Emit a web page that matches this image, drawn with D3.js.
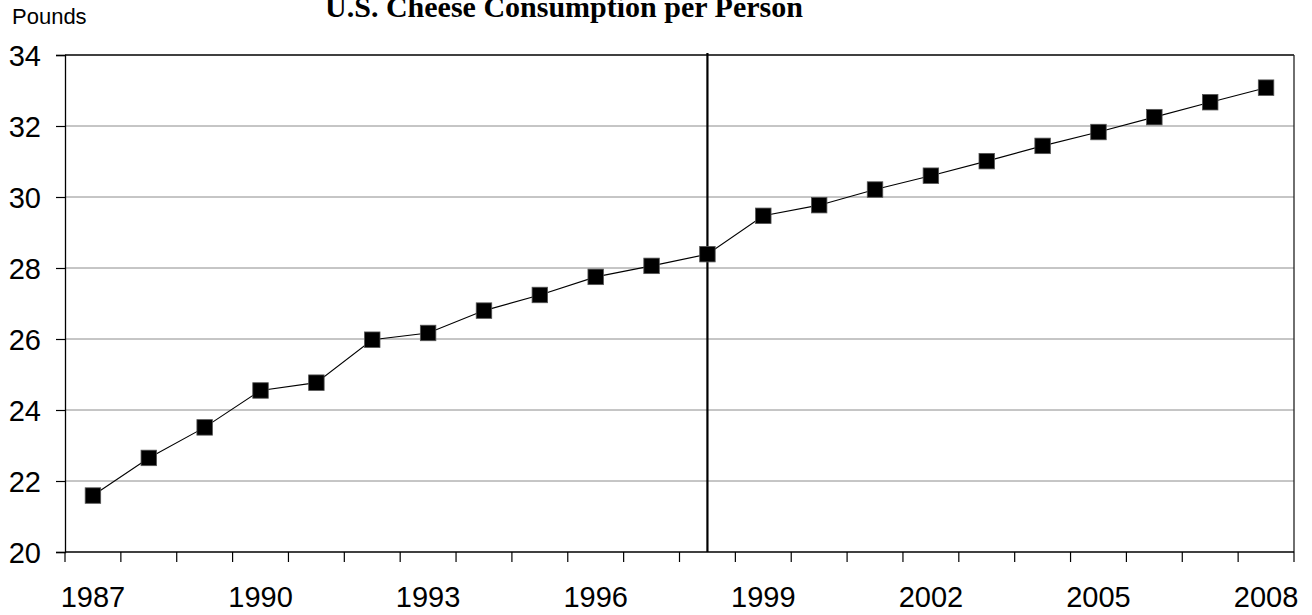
<!DOCTYPE html>
<html>
<head>
<meta charset="utf-8">
<script src="https://cdn.jsdelivr.net/npm/d3@7"></script>
<style>
  html, body { margin: 0; padding: 0; background: #fff; }
  svg { display: block; }
</style>
</head>
<body>
<svg id="chart" width="1312" height="615"></svg>
<script>
const years = ["1987","1988","1989","1990","1991","1992","1993","1994","1995","1996","1997",
               "1998","1999","2000","2001","2002","2003","2004","2005","2006","2007","2008"];
const pounds = [21.59, 22.65, 23.51, 24.55, 24.77, 25.98, 26.17, 26.80, 27.24, 27.75, 28.06,
                28.39, 29.47, 29.77, 30.21, 30.60, 31.01, 31.44, 31.83, 32.25, 32.67, 33.08];
const yTicks = [20, 22, 24, 26, 28, 30, 32, 34];
const xLabels = ["1987","1990","1993","1996","1999","2002","2005","2008"];
const markerYear = "1998";
const titleText = "U.S. Cheese Consumption per Person";
const unitText = "Pounds";

const svg = d3.select("#chart");
const pLeft = 65, pRight = 1294, pTop = 55, pBottom = 552;

const x = d3.scaleBand().domain(years).range([pLeft, pRight]).paddingInner(0).paddingOuter(0);
const y = d3.scaleLinear().domain([20, 34]).range([pBottom, pTop]);

// gridlines
svg.append("g").selectAll("line")
  .data(yTicks.filter(d => d > 20 && d < 34))
  .join("line")
  .attr("x1", pLeft).attr("x2", pRight)
  .attr("y1", d => y(d)).attr("y2", d => y(d))
  .attr("stroke", "#8c8c8c").attr("stroke-width", 1);

// plot border (top, right)
svg.append("line").attr("x1", pLeft).attr("x2", pRight).attr("y1", y(34)).attr("y2", y(34))
  .attr("stroke", "#000").attr("stroke-width", 1.3);
svg.append("line").attr("x1", pRight).attr("x2", pRight).attr("y1", y(34)).attr("y2", y(20))
  .attr("stroke", "#222").attr("stroke-width", 1.3);

// y axis
const yAxis = d3.axisLeft(y).tickValues(yTicks).tickSize(9).tickPadding(15).tickFormat(d3.format("d"));
const gy = svg.append("g").attr("transform", `translate(${pLeft},0)`).call(yAxis);
gy.select(".domain").attr("stroke", "#000").attr("stroke-width", 1.3);
gy.selectAll(".tick line").attr("stroke", "#000").attr("stroke-width", 1.2);
gy.selectAll(".tick text")
  .attr("font-family", "Liberation Sans, Arial, sans-serif")
  .attr("font-size", 29).attr("fill", "#000").attr("dy", "0.36em");

// x axis
const gx = svg.append("g").attr("transform", `translate(0,${pBottom})`);
gx.append("line").attr("x1", pLeft).attr("x2", pRight).attr("y1", 0).attr("y2", 0)
  .attr("stroke", "#000").attr("stroke-width", 1.3);
const boundaries = years.map(d => x(d)).concat([x(years[years.length - 1]) + x.bandwidth()]);
gx.selectAll("line.tk").data(boundaries).join("line").attr("class", "tk")
  .attr("x1", d => d).attr("x2", d => d).attr("y1", 0).attr("y2", 10)
  .attr("stroke", "#000").attr("stroke-width", 1.2);
gx.selectAll("text").data(xLabels).join("text")
  .attr("x", d => x(d) + x.bandwidth() / 2)
  .attr("y", 55)
  .attr("text-anchor", "middle")
  .attr("font-family", "Liberation Sans, Arial, sans-serif")
  .attr("font-size", 29).attr("fill", "#000")
  .text(d => d);

// vertical marker line
svg.append("line")
  .attr("x1", x(markerYear) + x.bandwidth() / 2).attr("x2", x(markerYear) + x.bandwidth() / 2)
  .attr("y1", pTop - 2).attr("y2", pBottom)
  .attr("stroke", "#000").attr("stroke-width", 2.2);

// series line
const line = d3.line().x((d, i) => x(years[i]) + x.bandwidth() / 2).y(d => y(d));
svg.append("path").datum(pounds).attr("d", line)
  .attr("fill", "none").attr("stroke", "#000").attr("stroke-width", 1.1);

// markers
const ms = 15.5;
svg.append("g").selectAll("rect").data(pounds).join("rect")
  .attr("x", (d, i) => x(years[i]) + x.bandwidth() / 2 - ms / 2)
  .attr("y", d => y(d) - ms / 2)
  .attr("width", ms).attr("height", ms)
  .attr("fill", "#000").attr("stroke", "#555").attr("stroke-width", 0.8);

// title
svg.append("text").attr("x", 564).attr("y", 17).attr("text-anchor", "middle")
  .attr("font-family", "Liberation Serif, Times New Roman, serif")
  .attr("font-weight", "bold").attr("font-size", 30).attr("fill", "#000")
  .text(titleText);

// unit label
svg.append("text").attr("x", 12).attr("y", 24)
  .attr("font-family", "Liberation Sans, Arial, sans-serif")
  .attr("font-size", 22).attr("fill", "#000")
  .text(unitText);
</script>
</body>
</html>
